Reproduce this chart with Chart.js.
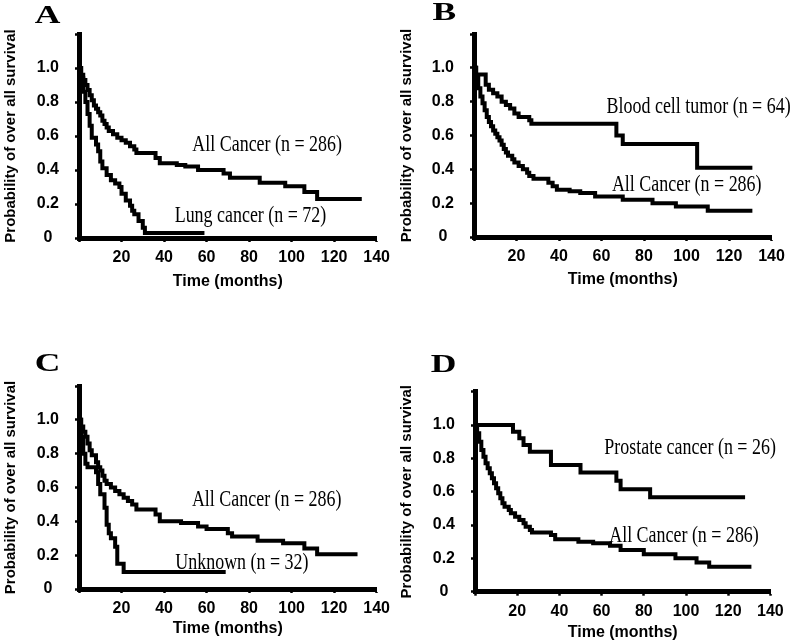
<!DOCTYPE html>
<html>
<head>
<meta charset="utf-8">
<script src="https://cdn.jsdelivr.net/npm/chart.js@4.4.1/dist/chart.umd.min.js"></script>
<style>
  html, body { margin: 0; padding: 0; background: #fff; }
  #wrap { position: relative; width: 792px; height: 642px; }
  .panel { position: absolute; width: 396px; height: 321px; }
</style>
</head>
<body>
<div id="wrap">
  <div class="panel" style="left:0;top:0"><canvas id="cA" width="396" height="321"></canvas></div>
  <div class="panel" style="left:396px;top:0"><canvas id="cB" width="396" height="321"></canvas></div>
  <div class="panel" style="left:0;top:321px"><canvas id="cC" width="396" height="321"></canvas></div>
  <div class="panel" style="left:396px;top:321px"><canvas id="cD" width="396" height="321"></canvas></div>
</div>
<script>
/* Kaplan-Meier curves: step times (months) and survival after each step */

// A — all cancer vs lung cancer
const aAllT  = [0,1,2,3,4,5,6,7,8,9,10,11,12,13,14,16,18,20,22,24,26,27,36,38,46,50,56,68,71,85,97,106,112,133];
const aAllS  = [1,0.96,0.93,0.90,0.87,0.84,0.81,0.78,0.76,0.74,0.72,0.69,0.67,0.65,0.63,0.61,0.59,0.575,0.56,0.54,0.52,0.50,0.47,0.44,0.43,0.42,0.40,0.38,0.355,0.325,0.305,0.27,0.23,0.23];
const aLungT = [0,1,2,3,4,5,6,8,9,10,11,13,15,17,19,20,22,24,25,26,28,30,31,59];
const aLungS = [1,0.94,0.86,0.80,0.73,0.66,0.59,0.55,0.51,0.45,0.41,0.37,0.34,0.32,0.30,0.26,0.22,0.19,0.16,0.14,0.10,0.06,0.03,0.03];

// B — blood cell tumor vs all cancer
const bBloodT = [0,1,5.5,7,9,11,13,15,17,19,21,26,27,67,70,105,131];
const bBloodS = [1,0.96,0.90,0.87,0.85,0.83,0.80,0.78,0.76,0.73,0.71,0.69,0.67,0.60,0.55,0.41,0.41];
const bAllT   = [0,1,2,3,4,5,6,7,8,9,10,11,12,13,14,15,16,18,19,21,23,25,26,28,35,37,39,45,50,57,70,84,95,110,131];
const bAllS   = [1,0.94,0.88,0.83,0.79,0.75,0.71,0.68,0.655,0.63,0.61,0.59,0.57,0.545,0.52,0.50,0.48,0.46,0.44,0.42,0.40,0.38,0.36,0.345,0.32,0.30,0.28,0.27,0.26,0.24,0.22,0.20,0.18,0.155,0.155];

// C — all cancer vs unknown primary
const cAllT = [0,1,2,3,4,5,6,8,9,10,11,12,13,15,17,19,21,23,25,27,36,38,48,56,60,70,72,84,96,106,112,131];
const cAllS = [1,0.96,0.93,0.90,0.86,0.82,0.79,0.75,0.72,0.70,0.67,0.64,0.62,0.60,0.58,0.56,0.54,0.52,0.50,0.47,0.44,0.40,0.39,0.37,0.355,0.33,0.31,0.285,0.27,0.24,0.205,0.205];
const cUnkT = [0,1,2,3,4,8,9,10,12,13,14,15,17,18,21,69];
const cUnkS = [1,0.90,0.80,0.74,0.72,0.69,0.62,0.56,0.48,0.38,0.33,0.30,0.25,0.15,0.10,0.10];

// D — prostate cancer vs all cancer
const dProT = [0,18,21,23,26,36,50,67,69,83,128];
const dProS = [1,0.96,0.92,0.88,0.84,0.76,0.715,0.665,0.615,0.567,0.567];
const dAllT = [0,1,2,3,4,5,6,7,8,9,10,11,12,13,14,16,17,19,21,23,24,26,27,36,38,49,56,64,69,80,95,105,111,131];
const dAllS = [1,0.95,0.90,0.85,0.81,0.77,0.74,0.71,0.68,0.65,0.62,0.59,0.56,0.53,0.51,0.49,0.47,0.45,0.43,0.41,0.39,0.37,0.355,0.34,0.315,0.30,0.29,0.275,0.25,0.225,0.20,0.175,0.15,0.15];

const SANS = '"Liberation Sans", Arial, sans-serif';
const SERIF = '"Liberation Serif", "Times New Roman", serif';

/* text labels inside the plot + the panel letter */
const notesPlugin = {
  id: 'notes',
  afterDatasetsDraw(chart, args, opts) {
    const { ctx, scales: { x, y } } = chart;
    ctx.save();
    ctx.fillStyle = '#000';
    ctx.textBaseline = 'middle';
    ctx.textAlign = 'left';
    ctx.font = '23px ' + SERIF;
    (opts.items || []).forEach(n => {
      ctx.save();
      ctx.translate(x.getPixelForValue(n.x), y.getPixelForValue(n.y));
      ctx.scale(0.78, 1);
      ctx.fillText(n.text, 0, 0);
      ctx.restore();
    });
    if (opts.letter) {
      ctx.font = 'bold 25px ' + SERIF;
      ctx.textAlign = 'center';
      ctx.translate(opts.letterAt[0], opts.letterAt[1]);
      ctx.scale(1.42, 1);
      ctx.fillText(opts.letter, 0, 0);
    }
    ctx.restore();
  }
};

function curve(t, s) {
  return {
    data: t.map((v, i) => ({ x: v, y: s[i] })),
    borderColor: '#000', borderWidth: 4, pointRadius: 0,
    stepped: 'before', fill: false, clip: false, tension: 0
  };
}

function kmPanel(id, letter, box, curves, notes) {
  const tickFont = { family: SANS, size: 16, weight: 'bold' };
  return new Chart(document.getElementById(id), {
    type: 'line',
    data: { datasets: curves },
    options: {
      responsive: false, animation: false,
      layout: { padding: { top: box.top, right: box.right, left: 0, bottom: 0 } },
      plugins: {
        legend: { display: false }, tooltip: { enabled: false },
        notes: { items: notes, letter: letter, letterAt: box.letterAt }
      },
      scales: {
        x: {
          type: 'linear', min: 0, max: 140,
          afterFit: s => { s.height = box.xH; },
          border: { display: true, color: '#000', width: 5 },
          grid: { drawOnChartArea: false, drawTicks: true, tickLength: 4, tickWidth: 2.5, tickColor: '#000' },
          ticks: { stepSize: 20, color: '#000', font: tickFont, padding: 6,
                   callback: v => v === 0 ? '' : v },
          title: { display: true, text: 'Time (months)', color: '#000',
                   font: { family: SANS, size: 16, weight: 'bold' },
                   padding: { top: 0, bottom: box.xTitlePad } }
        },
        y: {
          min: 0, max: 1.2,
          afterFit: s => { s.width = box.yW; },
          border: { display: true, color: '#000', width: 5 },
          grid: { drawOnChartArea: false, drawTicks: true, tickLength: 4, tickWidth: 2.5, tickColor: '#000' },
          ticks: { stepSize: 0.2, color: '#000', font: tickFont, padding: 16, crossAlign: 'center',
                   callback: v => {
                     const r = Math.round(v * 10) / 10;
                     if (r > 1.05) return '';
                     return r === 0 ? '0' : r.toFixed(1);
                   } },
          title: { display: true, text: 'Probability of over all survival', color: '#000',
                   font: { family: SANS, size: 15, weight: 'bold' },
                   padding: { top: 2, bottom: 0 } }
        }
      }
    },
    plugins: [notesPlugin]
  });
}

kmPanel('cA', 'A',
  { yW: 79, top: 34, right: 18, xH: 83, xTitlePad: 29.4, letterAt: [47.5, 16.7] },
  [curve(aAllT, aAllS), curve(aLungT, aLungS)],
  [{ text: 'All Cancer (n = 286)', x: 53.3, y: 0.547 },
   { text: 'Lung cancer (n = 72)', x: 45, y: 0.13 }]);

kmPanel('cB', 'B',
  { yW: 78, top: 34, right: 20.5, xH: 84, xTitlePad: 32, letterAt: [48.3, 14] },
  [curve(bBloodT, bBloodS), curve(bAllT, bAllS)],
  [{ text: 'Blood cell tumor (n = 64)', x: 62.4, y: 0.771 },
   { text: 'All Cancer (n = 286)', x: 64.9, y: 0.308 }]);

kmPanel('cC', 'C',
  { yW: 79, top: 65, right: 17.4, xH: 53, xTitlePad: 3.4, letterAt: [47.5, 43.3] },
  [curve(cAllT, cAllS), curve(cUnkT, cUnkS)],
  [{ text: 'All Cancer (n = 286)', x: 53.1, y: 0.527 },
   { text: 'Unknown (n = 32)', x: 45.3, y: 0.156 }]);

kmPanel('cD', 'D',
  { yW: 79, top: 70.7, right: 21.6, xH: 50.3, xTitlePad: 0, letterAt: [47.5, 45] },
  [curve(dProT, dProS), curve(dAllT, dAllS)],
  [{ text: 'Prostate cancer (n = 26)', x: 61.3, y: 0.864 },
   { text: 'All Cancer (n = 286)', x: 63.6, y: 0.334 }]);
</script>
</body>
</html>
